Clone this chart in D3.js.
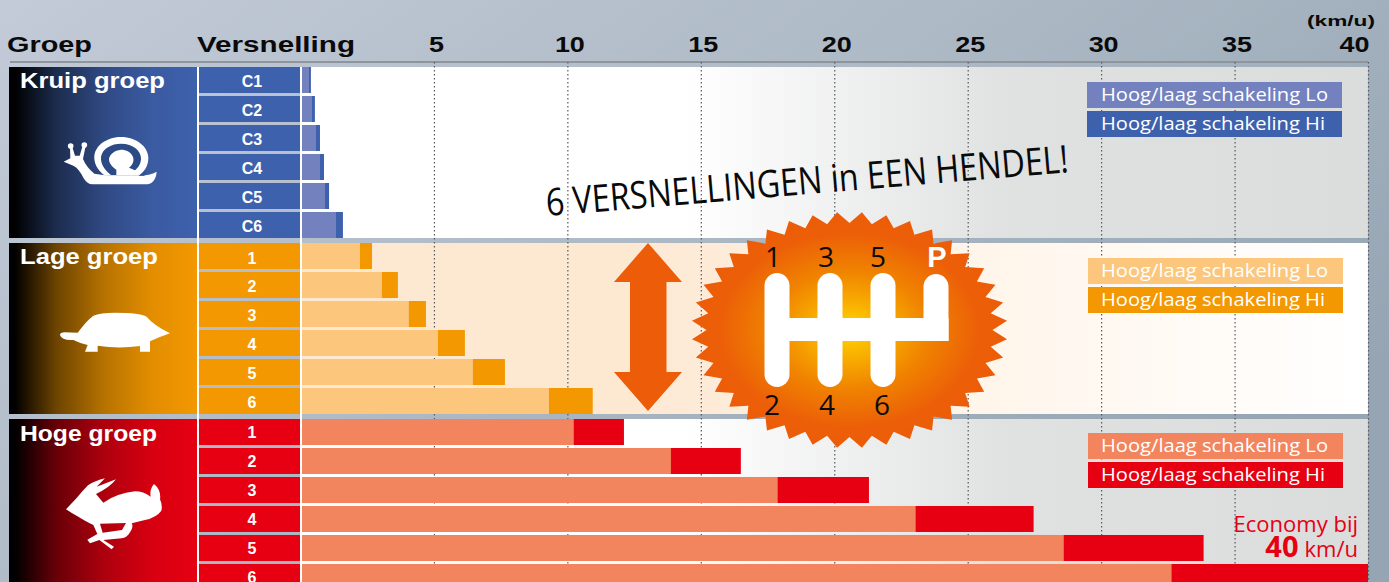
<!DOCTYPE html>
<html><head><meta charset="utf-8">
<script src="https://cdn.jsdelivr.net/npm/d3@7"></script>
<style>html,body{margin:0;padding:0;overflow:hidden;background:#aab5c3}svg{display:block}</style>
</head><body><div id="chart"></div>
<script>
const speedTicks = [5,10,15,20,25,30,35,40];
const groupNames = ["Kruip groep","Lage groep","Hoge groep"];
const kruipGears = ["C1","C2","C3","C4","C5","C6"];
const numGears = ["1","2","3","4","5","6"];
const kruipLo = [0.32,0.43,0.58,0.73,0.92,1.33];
const kruipHi = [0.39,0.54,0.73,0.88,1.07,1.59];
const lageLo = [2.23,3.05,4.06,5.15,6.46,9.31];
const lageHi = [2.68,3.65,4.70,6.16,7.66,10.95];
const hogeLo = [10.24,13.88,17.88,23.05,28.60,32.64];
const hogeHi = [12.12,16.50,21.30,27.47,33.84,40.00];
const legendLo = "Hoog/laag schakeling Lo";
const legendHi = "Hoog/laag schakeling Hi";

const W=1389,H=582;
const sans='"Liberation Sans",Arial,sans-serif', human='"Open Sans","Noto Sans",sans-serif';
const svg=d3.select("#chart").append("svg").attr("width",W).attr("height",H);
const defs=svg.append("defs");
function lin(id,stops,attrs){const g=defs.append("linearGradient").attr("id",id);
  Object.entries(attrs||{}).forEach(([k,v])=>g.attr(k,v));
  stops.forEach(s=>g.append("stop").attr("offset",s[0]).attr("stop-color",s[1]));}
lin("page",[[0,"#c3cad8"],[0.5,"#aebac6"],[1,"#95a5b3"]],{x1:0,y1:0,x2:1,y2:0.6});
const us={gradientUnits:"userSpaceOnUse",x1:300,x2:1368,y1:0,y2:0};
lin("plotGrey",[[0,"#ffffff"],[0.36,"#ffffff"],[0.66,"#e0e1e1"],[1,"#dbdddc"]],us);
lin("plotPeach",[[0,"#fde8d2"],[0.3,"#fde8d2"],[0.66,"#fff6ec"],[1,"#ffffff"]],us);

const blue="#3e61ad", orange="#f39800", red="#e60012";
const groups=[
 {name:groupNames[0],nameW:145,top:67,gears:kruipGears,lo:kruipLo,hi:kruipHi,color:blue,loColor:"#7382bf",plot:"plotGrey",legendTop:82,legendX:1087,titleY:88,dy:20,grad:"gBlue"},
 {name:groupNames[1],nameW:138,top:243,gears:numGears,lo:lageLo,hi:lageHi,color:orange,loColor:"#fcc77d",plot:"plotPeach",legendTop:258,legendX:1088,titleY:264,dy:20.5,grad:"gOrange"},
 {name:groupNames[2],nameW:137,top:419,gears:numGears,lo:hogeLo,hi:hogeHi,color:red,loColor:"#f2845e",plot:"plotGrey",legendTop:433,legendX:1088,titleY:441,dy:19,grad:"gRed"}];
groups.forEach(g=>{
  const mix=d3.interpolateRgb("#000",g.color);
  lin(g.grad,[[0,"#000"],[0.03,"#000"],[0.25,mix(0.45)],[0.5,mix(0.75)],[0.75,mix(0.93)],[1,g.color]]);
});

const x=d3.scaleLinear().domain([0,40]).range([300.5,1368]);
const groupH=171, rowBand=g=>d3.scaleBand().domain(g.gears).range([g.top,g.top+groupH]).paddingInner(0.103);

svg.append("rect").attr("width",W).attr("height",H).attr("fill","url(#page)");
groups.forEach(g=>svg.append("rect").attr("x",300).attr("y",g.top).attr("width",1068).attr("height",groupH).attr("fill",`url(#${g.plot})`));
svg.append("rect").attr("x",10).attr("y",61).attr("width",1358).attr("height",2).attr("fill","#8f959c");
const grid=svg.append("g").attr("transform","translate(0,62)")
  .call(d3.axisBottom(x).tickValues(speedTicks).tickSize(H).tickFormat(""));
grid.select(".domain").remove();
grid.selectAll("line").attr("stroke","#55595d").attr("stroke-width",1.2).attr("stroke-dasharray","1.5 2.5");

groups.forEach(g=>{
  [[legendLo,g.loColor,0],[legendHi,g.color,29]].forEach(([t,c,o])=>{
    svg.append("rect").attr("x",g.legendX).attr("y",g.legendTop+o).attr("width",255).attr("height",26).attr("fill",c);
    svg.append("text").attr("x",1101).attr("y",g.legendTop+o+19).attr("fill","#fff")
      .attr("font-family",human).attr("font-size",18).attr("textLength",t.endsWith("Lo")?227:224).attr("lengthAdjust","spacingAndGlyphs").text(t);
  });
});

groups.forEach(g=>{
  const y=rowBand(g);
  svg.append("rect").attr("x",9).attr("y",g.top).attr("width",189).attr("height",groupH).attr("fill",`url(#${g.grad})`);
  const rows=svg.append("g").selectAll("g").data(g.gears).join("g");
  rows.append("rect").attr("x",198).attr("y",d=>y(d)).attr("width",102).attr("height",y.bandwidth()).attr("fill",g.color);
  rows.append("rect").attr("x",x(0)).attr("y",d=>y(d)).attr("height",y.bandwidth())
      .attr("width",(d,i)=>x(g.hi[i])-x(0)).attr("fill",g.color);
  rows.append("rect").attr("x",x(0)).attr("y",d=>y(d)).attr("height",y.bandwidth())
      .attr("width",(d,i)=>x(g.lo[i])-x(0)).attr("fill",g.loColor);
  rows.append("text").attr("x",252).attr("y",d=>y(d)+g.dy).attr("text-anchor","middle").attr("fill","#fff")
      .attr("font-family",sans).attr("font-weight",700).attr("font-size",16).text(d=>d);
  svg.append("text").attr("x",20).attr("y",g.titleY).attr("fill","#fff").attr("font-family",sans)
      .attr("font-weight",700).attr("font-size",22).attr("textLength",g.nameW).attr("lengthAdjust","spacingAndGlyphs").text(g.name);
});
[198,301].forEach(px=>svg.append("rect").attr("x",px-1).attr("y",67).attr("width",2).attr("height",H-67).attr("fill","#fff"));

const hdr=(t,px,py,fs,len)=>svg.append("text").attr("x",px).attr("y",py).attr("font-family",sans).attr("font-weight",700)
  .attr("font-size",fs).attr("textLength",len).attr("lengthAdjust","spacingAndGlyphs").attr("fill","#0a0a0a").text(t);
hdr("Groep",7,52,22,85);
hdr("Versnelling",197,52,22,158);
hdr("(km/u)",1307,26,14,68);
const axisT=svg.append("g").attr("transform","translate(2,52)")
  .call(d3.axisBottom(x).tickValues(speedTicks).tickSize(0).tickPadding(0));
axisT.select(".domain").remove();
axisT.selectAll("text").attr("y",0).attr("dy",0).attr("font-family",sans).attr("font-weight",700).attr("font-size",22)
  .attr("textLength",d=>d<10?15:30).attr("lengthAdjust","spacingAndGlyphs").attr("fill","#0a0a0a");
axisT.selectAll(".tick").filter(d=>d===40).select("text").attr("text-anchor","end").attr("x",-1);

function icon(ox,oy){return svg.append("g").attr("transform",`translate(${ox},${oy}) scale(${1/3})`).attr("fill","#fff");}
const sn=icon(55,125);
sn.append("path").attr("d","M26,110 L46,100 L45,66 L52,66 L60,92 L74,92 L83,62 L92,62 L84,102 Q95,128 118,146 L160,152 L250,152 Q285,152 305,140 Q302,178 270,178 L112,178 Q97,178 86,160 Q72,130 55,122 Z");
sn.append("circle").attr("cx",47).attr("cy",63).attr("r",8.5);
sn.append("circle").attr("cx",88).attr("cy",60).attr("r",8.5);
sn.append("path").attr("d","M150,152 C125,135 116,110 118,92 C122,58 160,36 198,36 C245,36 280,66 280,100 C280,122 268,142 250,152 Z");
sn.append("path").attr("d","M168,150 C148,135 136,115 138,96 C142,70 170,56 198,56 C235,56 258,78 258,100 C258,116 250,128 240,136 L222,128 C234,118 238,108 234,96 C228,80 214,74 198,74 C178,76 164,88 162,102 C162,114 170,124 184,134 L184,150 Z")
  .attr("fill","#2b4a86");
sn.append("path").attr("d","M252,152 L272,138 L268,152 Z").attr("fill","#31508f");
icon(55,300).append("path").attr("d","M15,105 Q15,97 30,97 L68,98 Q95,62 115,47 Q135,38 180,38 Q255,38 275,50 Q295,75 345,100 Q310,112 285,124 L285,155 L255,155 L255,138 Q190,147 128,137 L128,155 L90,155 L98,135 Q75,130 55,120 Q20,122 15,105 Z");
icon(60,470).append("path").attr("fill-rule","evenodd").attr("d","M18,118 L50,84 Q68,62 84,46 Q105,32 135,25 L110,50 L168,28 Q150,52 108,72 L130,98 Q170,70 225,64 Q250,64 272,80 Q268,58 282,42 Q304,60 300,88 Q308,105 304,122 Q290,142 255,150 L215,160 Q222,170 208,190 Q200,204 185,205 L130,210 L162,230 L155,238 L118,210 L90,220 L82,209 L112,192 L100,165 Q70,150 55,140 Q35,130 18,118 Z M120,161 L198,159 L186,180 L128,188 Z");

svg.append("text").attr("transform","translate(547,216) rotate(-4.8)").attr("font-family",human).attr("font-size",38)
  .attr("textLength",524).attr("lengthAdjust","spacingAndGlyphs").attr("fill","#0a0a0a").text("6 VERSNELLINGEN in EEN HENDEL!");

svg.append("path").attr("fill","#ec5c09").attr("d","M648,243 L682,282 L666.5,282 L666.5,372 L682,372 L648,411 L614,372 L630,372 L630,282 L614,282 Z");

const rg=defs.append("radialGradient").attr("id","burst").attr("cx",0.5).attr("cy",0.5).attr("r",0.5);
[[0,"#ffd800"],[0.22,"#f9b000"],[0.5,"#f08300"],[0.82,"#ec5f08"],[1,"#ec5c09"]].forEach(s=>rg.append("stop").attr("offset",s[0]).attr("stop-color",s[1]));
const spikes=d3.range(80).map(i=>{const a=i*Math.PI/40-Math.PI/2, o=i%2===1;
  return [849.5+(o?158:143)*Math.cos(a),330+(o?118:107)*Math.sin(a)];});
svg.append("path").attr("d",d3.line()(spikes)+"Z").attr("fill","url(#burst)");
const gate=svg.append("g").attr("fill","#fff");
[777,830,883].forEach(px=>gate.append("line").attr("x1",px).attr("x2",px).attr("y1",285.5).attr("y2",374.5).attr("stroke","#fff").attr("stroke-width",25).attr("stroke-linecap","round"));
gate.append("rect").attr("x",777).attr("y",318).attr("width",171.5).attr("height",23);
gate.append("path").attr("d","M923.5,341 L923.5,286.5 A12.5,12.5 0 0 1 948.5,286.5 L948.5,341 Z");
svg.selectAll(null).data([["1",773,267],["3",826,267],["5",878,267],["2",772,415],["4",827,415],["6",882,415]]).join("text")
  .attr("x",d=>d[1]).attr("y",d=>d[2]).attr("text-anchor","middle").attr("font-family",human).attr("font-size",28).attr("fill","#0a0a0a").text(d=>d[0]);
svg.append("text").attr("x",937).attr("y",267).attr("text-anchor","middle").attr("font-family",sans).attr("font-weight",700).attr("font-size",29).attr("fill","#fff").text("P");

svg.append("text").attr("x",1358).attr("y",532).attr("text-anchor","end").attr("font-family",human).attr("font-size",22).attr("fill",red).text("Economy bij");
const eco=svg.append("text").attr("x",1358).attr("y",557).attr("text-anchor","end").attr("font-family",human).attr("fill",red);
eco.append("tspan").attr("font-weight",700).attr("font-size",29).text("40");
eco.append("tspan").attr("font-size",22).attr("dx",6).text("km/u");
</script></body></html>
